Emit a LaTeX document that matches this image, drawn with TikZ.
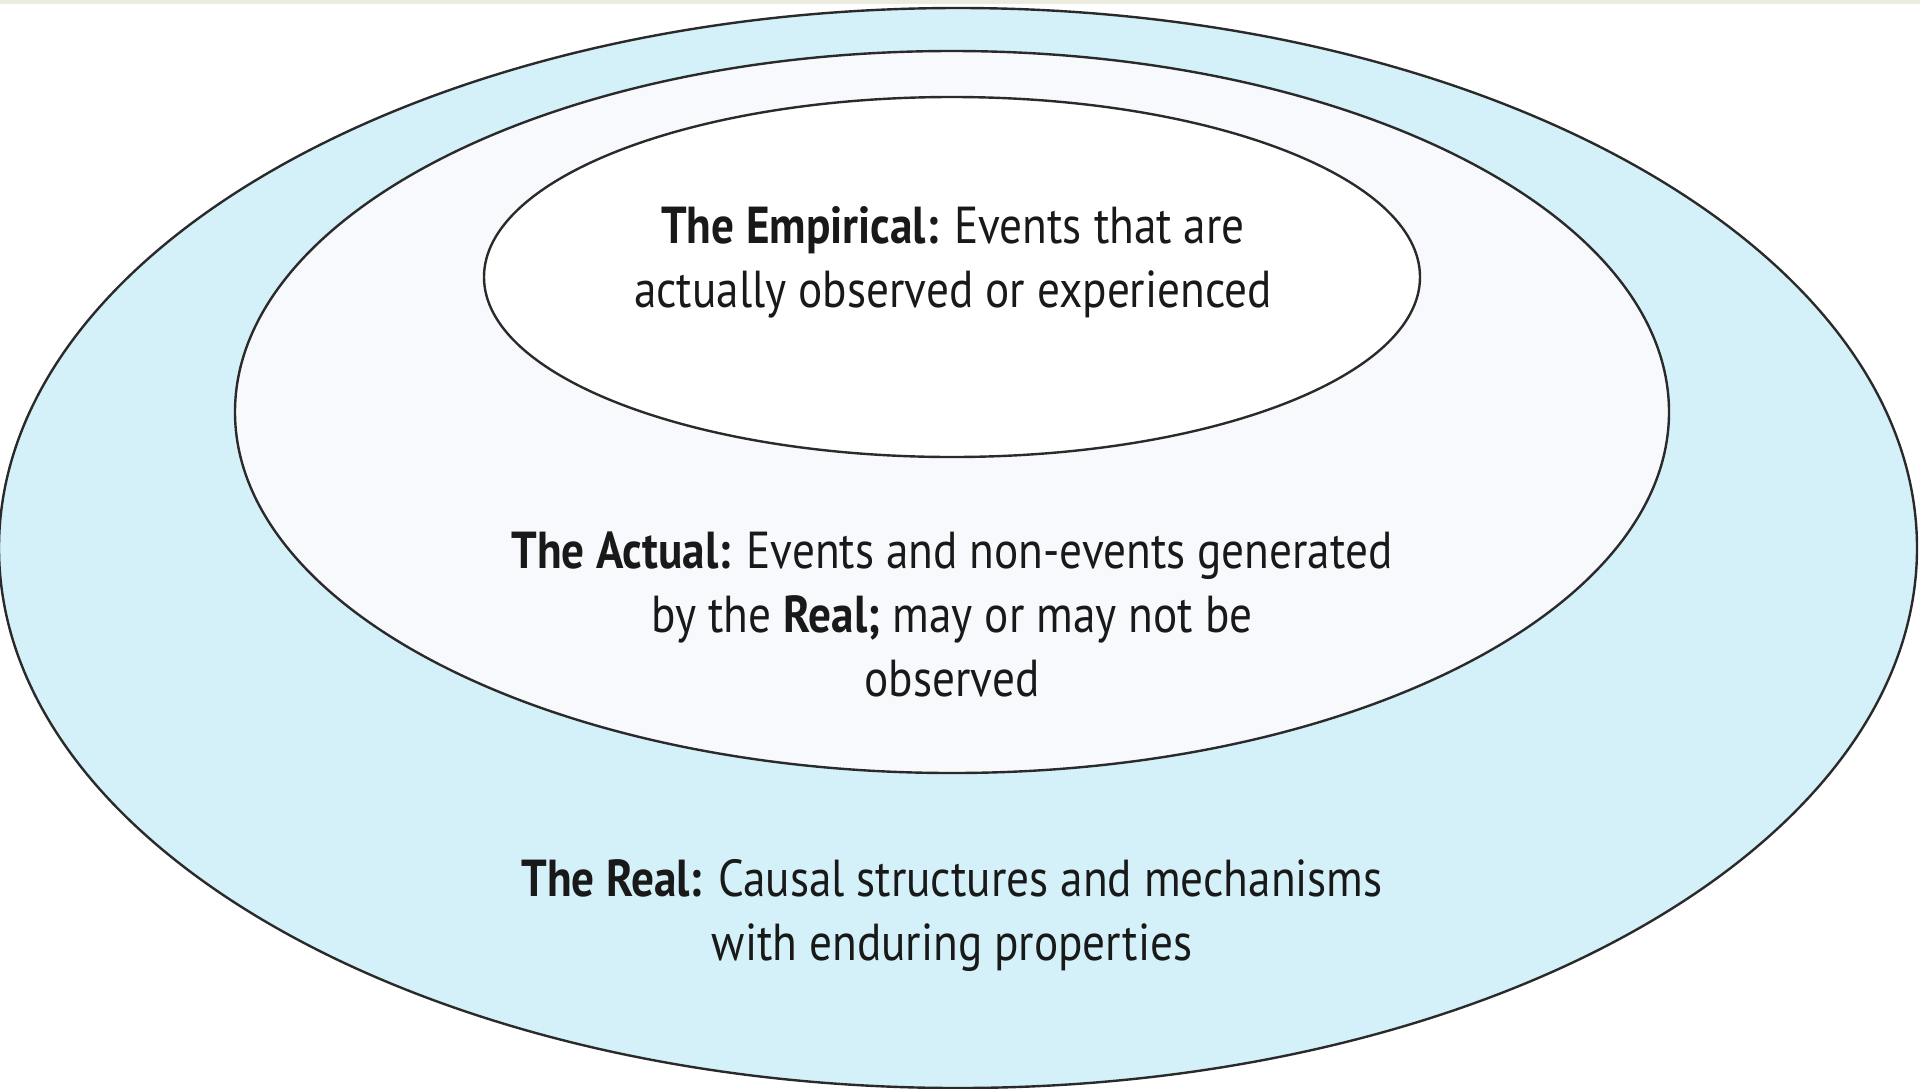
\documentclass[tikz,border=0pt]{standalone}
\usepackage{fontspec}
\setmainfont{PT Sans}[FakeStretch=0.87]
\usetikzlibrary{shapes.geometric}
\definecolor{realfill}{HTML}{D4F0F8}
\definecolor{actualfill}{HTML}{F8F9FD}
\definecolor{strip}{HTML}{ECEBE0}
\definecolor{inkline}{HTML}{2A2A2A}
\tikzset{
  zone/.style={ellipse, draw=inkline, line width=2.4pt, inner sep=0pt},
  label/.style={align=center, font=\fontsize{52}{64}\selectfont, text=black!90, inner sep=0pt}
}
\begin{document}
\begin{tikzpicture}[x=1pt,y=-1pt]
\useasboundingbox (0,0) rectangle (1920,1088);
\clip (0,0) rectangle (1920,1088);
\fill[white] (0,0) rectangle (1920,1088);
\fill[strip] (0,0) rectangle (1920,4);
\node[zone, fill=realfill, minimum width=1918pt, minimum height=1080pt] (real) at (958,548) {};
\node[zone, fill=actualfill, minimum width=1434pt, minimum height=722pt] (actual) at (952,412) {};
\node[zone, fill=white, minimum width=936pt, minimum height=360pt] (empirical) at (952,277) {};
\node[label] (emptext) at (953,262) {\textbf{The Empirical:} Events that are\\actually observed or experienced};
\node[label] (acttext) at (952,614) {\textbf{The Actual:} Events and non-events generated\\by the \textbf{Real;} may or may not be\\observed};
\node[label] (realtext) at (952,915) {\textbf{The Real:} Causal structures and mechanisms\\with enduring properties};
\end{tikzpicture}
\end{document}
